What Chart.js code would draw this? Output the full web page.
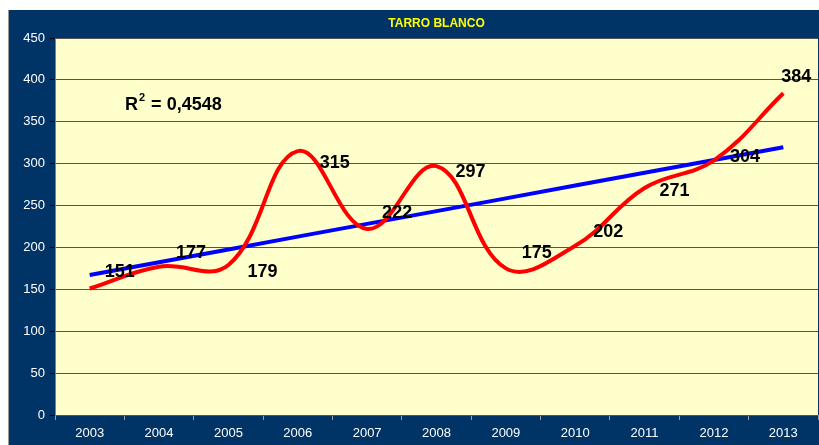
<!DOCTYPE html>
<html>
<head>
<meta charset="utf-8">
<style>
  html, body { margin: 0; padding: 0; background: #ffffff; }
  #wrap { width: 819px; height: 445px; }
</style>
<script src="https://cdn.jsdelivr.net/npm/chart.js@4.4.1/dist/chart.umd.min.js"></script>
</head>
<body>
<div id="wrap"><canvas id="tarroChart" width="819" height="445"></canvas></div>
<script>
const years = ["2003", "2004", "2005", "2006", "2007", "2008", "2009", "2010", "2011", "2012", "2013"];
const sales = [151, 177, 179, 315, 222, 297, 175, 202, 271, 304, 384];
const yTicks = [0, 50, 100, 150, 200, 250, 300, 350, 400, 450];

// least squares trend line over the year index
const n = sales.length;
const meanX = (n - 1) / 2;
const meanY = sales.reduce((a, b) => a + b, 0) / n;
let sxy = 0, sxx = 0, sst = 0;
sales.forEach((v, i) => {
    sxy += (i - meanX) * (v - meanY);
    sxx += (i - meanX) * (i - meanX);
    sst += (v - meanY) * (v - meanY);
});
const slope = sxy / sxx;
const intercept = meanY - slope * meanX;
const trend = sales.map((v, i) => intercept + slope * i);
const r2 = (slope * slope * sxx) / sst;

// label offsets from each point, in px
const labelOffsets = [[30, -16], [32, -14], [34, 7], [37, 12], [30, -16], [34, 6], [31, -15], [33, -14], [30, 3], [31, -3], [13, -16]];

const panelPlugin = {
    id: "panel",
    beforeDraw(chart) {
        const ctx = chart.ctx;
        const a = chart.chartArea;
        ctx.save();
        ctx.fillStyle = "#003366";
        ctx.fillRect(8, 10, 819 - 8, 445 - 10);
        ctx.strokeStyle = "#9a9a9a";
        ctx.lineWidth = 1;
        ctx.beginPath();
        ctx.moveTo(8.5, 10);
        ctx.lineTo(8.5, 445);
        ctx.stroke();
        ctx.fillStyle = "#FFFFCC";
        ctx.fillRect(a.left, a.top, a.right - a.left, a.bottom - a.top);
        ctx.restore();
    },
    afterDraw(chart) {
        const ctx = chart.ctx;
        const a = chart.chartArea;
        ctx.save();
        ctx.fillStyle = "#FFFF00";
        ctx.font = "bold 12px 'Liberation Sans', Arial, sans-serif";
        ctx.textAlign = "center";
        ctx.textBaseline = "middle";
        ctx.fillText("TARRO BLANCO", (a.left + a.right) / 2, 24);

        // R squared of the trend line
        ctx.fillStyle = "#000000";
        ctx.textAlign = "left";
        ctx.textBaseline = "alphabetic";
        ctx.font = "bold 18px 'Liberation Sans', Arial, sans-serif";
        let x = 125;
        ctx.fillText("R", x, 110);
        x += ctx.measureText("R").width;
        ctx.font = "bold 11px 'Liberation Sans', Arial, sans-serif";
        ctx.fillText("2", x + 1, 101);
        x += ctx.measureText("2").width + 2;
        ctx.font = "bold 18px 'Liberation Sans', Arial, sans-serif";
        ctx.fillText(" = " + r2.toFixed(4).replace(".", ","), x, 110);
        ctx.restore();
    }
};

const valueLabelPlugin = {
    id: "valueLabels",
    afterDatasetsDraw(chart) {
        const ctx = chart.ctx;
        const meta = chart.getDatasetMeta(0);
        ctx.save();
        ctx.fillStyle = "#000000";
        ctx.font = "bold 18px 'Liberation Sans', Arial, sans-serif";
        ctx.textAlign = "center";
        ctx.textBaseline = "middle";
        meta.data.forEach((pt, i) => {
            const off = labelOffsets[i];
            ctx.fillText(String(sales[i]), pt.x + off[0], pt.y + off[1]);
        });
        ctx.restore();
    }
};

new Chart(document.getElementById("tarroChart"), {
    type: "line",
    data: {
        labels: years,
        datasets: [
            {
                label: "TARRO BLANCO",
                data: sales,
                borderColor: "#FF0000",
                borderWidth: 4,
                pointRadius: 0,
                tension: 0.4,
                fill: false,
                order: 1
            },
            {
                label: "Lineal",
                data: trend,
                borderColor: "#0000FF",
                borderWidth: 4,
                pointRadius: 0,
                tension: 0,
                fill: false,
                order: 2
            }
        ]
    },
    options: {
        responsive: false,
        animation: false,
        layout: {
            padding: { left: 0, top: 38, right: 1, bottom: 0 }
        },
        scales: {
            x: {
                offset: true,
                afterFit: function (scale) { scale.height = 30; },
                grid: {
                    offset: true,
                    drawOnChartArea: false,
                    tickLength: 5,
                    tickColor: "#a0a0a0"
                },
                border: { display: false },
                ticks: {
                    color: "#ffffff",
                    padding: 6,
                    maxRotation: 0,
                    font: { family: "'Liberation Sans', Arial, sans-serif", size: 13 }
                }
            },
            y: {
                min: 0,
                max: 450,
                afterFit: function (scale) { scale.width = 55; },
                afterBuildTicks: function (scale) {
                    scale.ticks = yTicks.map(v => ({ value: v }));
                },
                grid: {
                    color: "#555555",
                    lineWidth: 1,
                    tickLength: 5,
                    tickColor: "#000000"
                },
                border: { display: true, color: "#808080" },
                ticks: {
                    color: "#ffffff",
                    padding: 5,
                    font: { family: "'Liberation Sans', Arial, sans-serif", size: 13 }
                }
            }
        },
        plugins: {
            legend: { display: false },
            tooltip: { enabled: false }
        }
    },
    plugins: [panelPlugin, valueLabelPlugin]
});
</script>
</body>
</html>
